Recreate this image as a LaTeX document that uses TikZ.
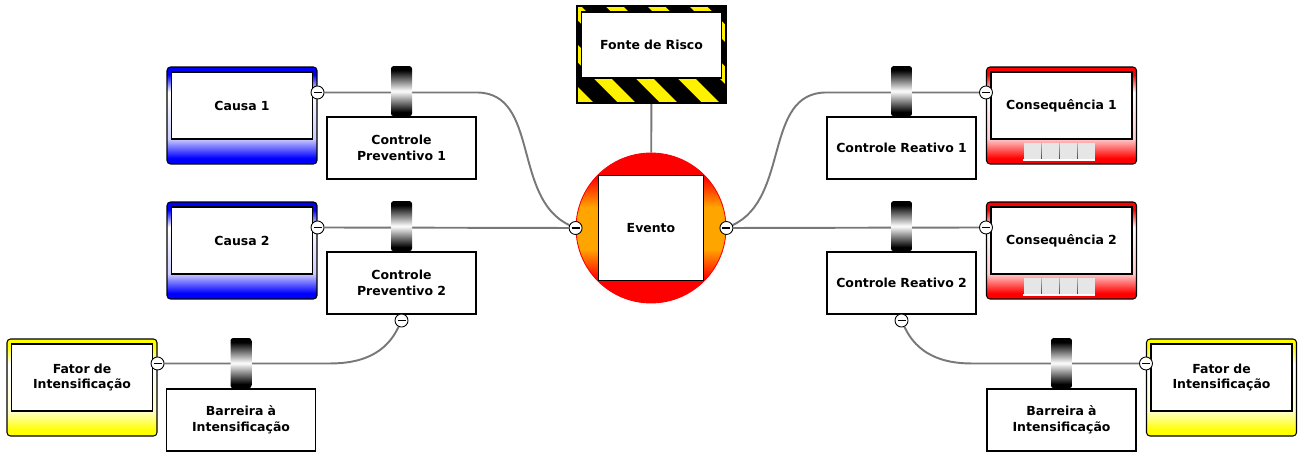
\documentclass[tikz,border=0pt]{standalone}
\usepackage{fontspec}
\setmainfont{DejaVu Sans}
\usepackage{tikz}
\usetikzlibrary{positioning,backgrounds,calc}
\definecolor{evorange}{RGB}{255,165,0}
\definecolor{linkgray}{RGB}{120,120,120}
\definecolor{cellgray}{RGB}{230,230,230}
\newcommand{\bowfont}{\fontsize{7.1}{9}\selectfont\bfseries}
\newcommand{\declframeshade}[2]{%
  \pgfdeclareverticalshading{#1}{100bp}{color(0bp)=(#2); color(25bp)=(#2); color(28bp)=(#2);
    color(38bp)=(#2!20!white); color(62bp)=(white); color(71bp)=(#2); color(75bp)=(#2); color(100bp)=(#2)}}
\declframeshade{blueframe}{blue}
\declframeshade{redframe}{red}
\declframeshade{yellowframe}{yellow}
\pgfdeclareverticalshading{eventshade}{100bp}{color(0bp)=(red); color(25bp)=(red); color(33bp)=(red);
  color(43bp)=(evorange); color(57bp)=(evorange); color(67bp)=(red); color(75bp)=(red); color(100bp)=(red)}
\pgfdeclareverticalshading{barshade}{100bp}{color(0bp)=(black); color(25bp)=(black); color(29bp)=(black);
  color(50bp)=(white); color(71bp)=(black); color(75bp)=(black); color(100bp)=(black)}

\begin{document}
\begin{tikzpicture}[
  x=0.02cm, y=0.02cm,
  outerbox/.style={draw,rectangle,rounded corners=0.07cm,line width=0.6pt,minimum width=3cm,minimum height=1.94cm},
  innerbox/.style={draw,rectangle,fill=white,line width=0.6pt,minimum width=2.82cm,minimum height=1.34cm,text width=2.5cm,align=center,font=\bowfont},
  ctrlbox/.style={draw,rectangle,fill=white,line width=0.6pt,minimum width=2.98cm,minimum height=1.24cm,text width=2.7cm,align=center,font=\bowfont},
  barbox/.style={rectangle,rounded corners=0.05cm,shading=barshade,minimum width=0.42cm,minimum height=1cm,inner sep=0},
  minusc/.style={draw,circle,fill=white,line width=0.5pt,minimum size=0.26cm,inner sep=0,
    path picture={\draw[line width=0.6pt] ([xshift=-0.08cm]path picture bounding box.center) -- ([xshift=0.08cm]path picture bounding box.center);}},
  hazard/.style={draw,rectangle,fill=yellow,line width=0.6pt,minimum width=2.98cm,minimum height=1.94cm,
    path picture={\foreach \s in {-1,...,6}
      \fill[black] ($(path picture bounding box.north west)+(\s*0.84cm-1.6cm,0)$) -- ++(0.48cm,0) -- ++(2.2cm,-2.2cm) -- ++(-0.48cm,0) -- cycle;}},
  link/.style={draw=linkgray,line width=1.1pt}
]
\useasboundingbox (0,0) rectangle (1302,471);

% causes
\node[outerbox, shading=blueframe] (c1) at (242,355.5) {};
\node[innerbox, below=0.1cm of c1.north] (c1t) {Causa 1};
\node[outerbox, shading=blueframe] (c2) at (242,220.5) {};
\node[innerbox, below=0.1cm of c2.north] (c2t) {Causa 2};
\node[outerbox, shading=yellowframe] (fl) at (82,83.5) {};
\node[innerbox, below=0.1cm of fl.north] (flt) {Fator de\\Intensificação};

% consequences
\node[outerbox, shading=redframe] (q1) at (1061.5,355.5) {};
\node[innerbox, below=0.1cm of q1.north] (q1t) {Consequência 1};
\node[outerbox, shading=redframe] (q2) at (1061.5,220.5) {};
\node[innerbox, below=0.1cm of q2.north] (q2t) {Consequência 2};
\node[outerbox, shading=yellowframe] (fr) at (1221.5,83.5) {};
\node[innerbox, below=0.1cm of fr.north] (frt) {Fator de\\Intensificação};
\foreach \q in {q1,q2}{
  \foreach \k in {0,...,3}
    \fill[cellgray] ($(\q.south)+(-0.76cm+\k*0.36cm,0.1cm)$) rectangle ++(0.34cm,0.34cm);
  \draw[white,line width=0.8pt] ($(\q.south)+(-0.77cm,0.09cm)$) -- ++(1.43cm,0);
}

% hazard and top event
\node[hazard] (fonte) at (651.5,416.5) {};
\node[innerbox, minimum width=2.8cm, minimum height=1.32cm, below=0.12cm of fonte.north] (fontet) {Fonte de Risco};
\node[draw=red, circle, shading=eventshade, minimum size=3cm, line width=0.5pt] (ev) at (651,243) {};
\node[draw, fill=white, minimum size=2.1cm, line width=0.6pt, font=\bowfont] (evt) at (ev) {Evento};

% controls and barriers
\node[ctrlbox] (cp1) at (401.5,323) {Controle\\Preventivo 1};
\node[ctrlbox] (cp2) at (401.5,188) {Controle\\Preventivo 2};
\node[ctrlbox] (cr1) at (901.5,323) {Controle Reativo 1};
\node[ctrlbox] (cr2) at (901.5,188) {Controle Reativo 2};
\node[ctrlbox] (bl) at (241,51) {Barreira à\\Intensificação};
\node[ctrlbox] (br) at (1061.5,51) {Barreira à\\Intensificação};
\node[barbox, above=0pt of cp1] (cp1bar) {};
\node[barbox, above=0pt of cp2] (cp2bar) {};
\node[barbox, above=0pt of cr1] (cr1bar) {};
\node[barbox, above=0pt of cr2] (cr2bar) {};
\node[barbox, above=0pt of bl] (blbar) {};
\node[barbox, above=0pt of br] (brbar) {};

% minus buttons
\node[minusc] (c1m) at ([yshift=-0.52cm]c1.north east) {};
\node[minusc] (c2m) at ([yshift=-0.52cm]c2.north east) {};
\node[minusc] (flm) at ([yshift=-0.5cm]fl.north east) {};
\node[minusc] (q1m) at ([yshift=-0.52cm]q1.north west) {};
\node[minusc] (q2m) at ([yshift=-0.52cm]q2.north west) {};
\node[minusc] (frm) at ([yshift=-0.5cm]fr.north west) {};
\node[minusc] (evl) at (ev.west) {};
\node[minusc] (evr) at (ev.east) {};
\node[minusc] (cp2m) at ([yshift=-0.12cm]cp2.south) {};
\node[minusc] (cr2m) at ([yshift=-0.12cm]cr2.south) {};

\begin{scope}[on background layer]
\draw[link] (fonte) -- (ev);
\draw[link] (c1m) -- (c1m -| cp1.east) to[out=0,in=155] (evl);
\draw[link] (c2m) -- (evl);
\draw[link] (evr) to[out=25,in=180] (q1m -| cr1.west) -- (q1m);
\draw[link] (evr) -- (q2m);
\draw[link] (flm) -- ($(flm -| bl.east)+(0.28cm,0)$) to[out=0,in=-115] (cp2m);
\draw[link] (cr2m) to[out=-65,in=180] ($(frm -| br.west)+(-0.3cm,0)$) -- (frm);
\end{scope}
\end{tikzpicture}
\end{document}
